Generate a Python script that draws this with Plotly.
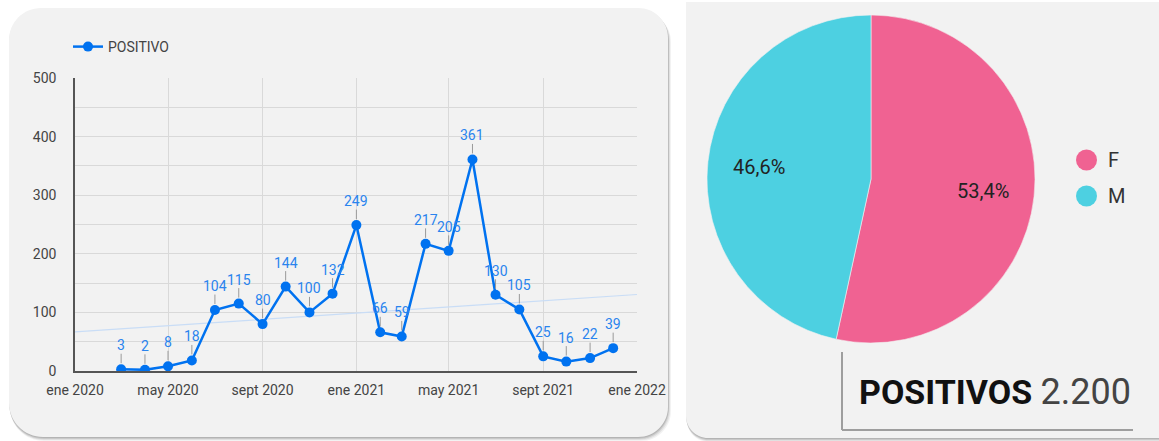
import numpy as np
import pandas as pd
import plotly.graph_objects as go

W, H = 1159, 441

# Monthly positive cases
months = pd.date_range("2020-03-01", "2021-12-01", freq="MS")
positivos = [3, 2, 8, 18, 104, 115, 80, 144, 100, 132, 249,
             66, 59, 217, 205, 361, 130, 105, 25, 16, 22, 39]

# Axis ticks
tick_dates = ["2020-01-01", "2020-05-01", "2020-09-01", "2021-01-01",
              "2021-05-01", "2021-09-01", "2022-01-01"]
tick_text = ["ene 2020", "may 2020", "sept 2020", "ene 2021",
             "may 2021", "sept 2021", "ene 2022"]

# Split by sex
sexo = ["F", "M"]
casos_sexo = [1175, 1025]
colores_sexo = ["#f06292", "#4dd0e1"]

BLUE = "#0072f0"
FONT = "Roboto"


def px(x):
    return x / W


def py(y):
    return 1 - y / H


def rounded_path(x0, y0, x1, y1, rtl, rtr, rbr, rbl):
    k = 0.5523
    pts = []
    pts.append(f"M {px(x0 + rtl)},{py(y0)}")
    pts.append(f"L {px(x1 - rtr)},{py(y0)}")
    if rtr:
        pts.append(f"C {px(x1 - rtr + k * rtr)},{py(y0)} {px(x1)},{py(y0 + rtr - k * rtr)} {px(x1)},{py(y0 + rtr)}")
    pts.append(f"L {px(x1)},{py(y1 - rbr)}")
    if rbr:
        pts.append(f"C {px(x1)},{py(y1 - rbr + k * rbr)} {px(x1 - rbr + k * rbr)},{py(y1)} {px(x1 - rbr)},{py(y1)}")
    pts.append(f"L {px(x0 + rbl)},{py(y1)}")
    if rbl:
        pts.append(f"C {px(x0 + rbl - k * rbl)},{py(y1)} {px(x0)},{py(y1 - rbl + k * rbl)} {px(x0)},{py(y1 - rbl)}")
    pts.append(f"L {px(x0)},{py(y0 + rtl)}")
    if rtl:
        pts.append(f"C {px(x0)},{py(y0 + rtl - k * rtl)} {px(x0 + rtl - k * rtl)},{py(y0)} {px(x0 + rtl)},{py(y0)}")
    pts.append("Z")
    return " ".join(pts)


def card(x0, y0, x1, y1, radii):
    out = []
    for dx, dy, a in [(3, 4, 0.05), (2, 3, 0.07), (1, 2, 0.10), (0.5, 1, 0.10)]:
        out.append(dict(type="path", xref="paper", yref="paper", layer="below",
                        path=rounded_path(x0 + dx * 0.3, y0 + dy, x1 + dx, y1 + dy, *radii),
                        fillcolor=f"rgba(0,0,0,{a})", line=dict(width=0)))
    out.append(dict(type="path", xref="paper", yref="paper", layer="below",
                    path=rounded_path(x0, y0, x1, y1, *radii),
                    fillcolor="#f2f2f2", line=dict(width=0)))
    return out


fig = go.Figure()

# Linear trend over the full axis span
t = (months - pd.Timestamp("2020-01-01")).days.values.astype(float)
coef = np.polyfit(t, positivos, 1)
trend_x = pd.to_datetime([tick_dates[0], tick_dates[-1]])
trend_t = (trend_x - pd.Timestamp("2020-01-01")).days.values.astype(float)
fig.add_trace(go.Scatter(x=trend_x, y=np.polyval(coef, trend_t), mode="lines",
                         line=dict(color="#c9ddf6", width=1.2), showlegend=False,
                         hoverinfo="skip"))

fig.add_trace(go.Scatter(x=months, y=positivos, mode="lines+markers", name="POSITIVO",
                         line=dict(color=BLUE, width=2.5),
                         marker=dict(color=BLUE, size=10)))

annotations = []
for d, v in zip(months, positivos):
    annotations.append(dict(x=d, y=v, xref="x", yref="y", text=str(v),
                            showarrow=True, arrowhead=0, arrowwidth=1,
                            arrowcolor="#9a9a9a", ax=0, ay=-24, standoff=6,
                            borderpad=0,
                            font=dict(family=FONT, size=14, color="#2a84ee")))

# Pie chart of cases by sex
PIE_CX, PIE_CY, PIE_R = 871, 179, 164
fig.add_trace(go.Pie(labels=sexo, values=casos_sexo, sort=False, direction="clockwise",
                     rotation=0, marker=dict(colors=colores_sexo,
                                             line=dict(color="#f2f2f2", width=0.6)),
                     textinfo="none", showlegend=False, hoverinfo="label+percent",
                     domain=dict(x=[px(PIE_CX - PIE_R), px(PIE_CX + PIE_R)],
                                 y=[py(PIE_CY + PIE_R), py(PIE_CY - PIE_R)])))

# Percent labels placed at each slice's mid-angle
total_sexo = sum(casos_sexo)
start = 0.0
for v in casos_sexo:
    frac = v / total_sexo
    mid = 2 * np.pi * (start + frac / 2)
    start += frac
    lx = PIE_CX + 0.685 * PIE_R * np.sin(mid)
    ly = PIE_CY - 0.685 * PIE_R * np.cos(mid)
    annotations.append(dict(x=px(lx), y=py(ly), xref="paper", yref="paper",
                            text=f"{frac * 100:.1f}%".replace(".", ","),
                            showarrow=False, xanchor="center", yanchor="middle",
                            font=dict(family=FONT, size=20, color="#222222")))

# Pie legend
legend_y = [160, 196]
shapes = []
shapes += card(9, 8, 668, 437, (32, 30, 30, 34))
shapes += card(686, 2, 1162, 438, (0, 0, 0, 22))
for lab, col, yy in zip(sexo, colores_sexo, legend_y):
    shapes.append(dict(type="circle", xref="paper", yref="paper",
                       x0=px(1076), x1=px(1097), y0=py(yy + 10.5), y1=py(yy - 10.5),
                       fillcolor=col, line=dict(width=0)))
    annotations.append(dict(x=px(1106), y=py(yy), xref="paper", yref="paper",
                            text=lab, showarrow=False, xanchor="left", yanchor="middle",
                            font=dict(family=FONT, size=20, color="#333333")))

# Scorecard
total = sum(positivos)
total_txt = f"{total:,}".replace(",", ".")
shapes.append(dict(type="line", xref="paper", yref="paper", x0=px(842), x1=px(842),
                   y0=py(352), y1=py(430), line=dict(color="#9e9e9e", width=2)))
shapes.append(dict(type="line", xref="paper", yref="paper", x0=px(842), x1=px(1133),
                   y0=py(430), y1=py(430), line=dict(color="#9e9e9e", width=2)))
annotations.append(dict(x=px(857), y=py(392), xref="paper", yref="paper",
                        text=(f"<b>POSITIVOS</b> "
                              f"<span style='color:#444444;font-size:36px'>{total_txt}</span>"),
                        showarrow=False, xanchor="left", yanchor="middle",
                        font=dict(family=FONT, size=34, color="#111111")))

fig.update_layout(
    width=W, height=H, autosize=False,
    margin=dict(l=0, r=0, t=0, b=0, autoexpand=False),
    paper_bgcolor="white", plot_bgcolor="rgba(0,0,0,0)",
    separators=",.",
    font=dict(family=FONT, color="#444444"),
    shapes=shapes, annotations=annotations,
    showlegend=True,
    legend=dict(x=px(68), y=py(47), xanchor="left", yanchor="middle",
                bgcolor="rgba(0,0,0,0)", font=dict(family=FONT, size=14, color="#444444"),
                itemwidth=30),
    xaxis=dict(domain=[px(75), px(637)], type="date", automargin=False,
               range=[tick_dates[0], tick_dates[-1]],
               tickvals=tick_dates, ticktext=tick_text, ticks="",
               showgrid=True, gridcolor="#d9d9d9", gridwidth=1,
               showline=True, linecolor="#555555", linewidth=2,
               zeroline=False, ticklabelstandoff=5,
               tickfont=dict(family=FONT, size=14, color="#444444")),
    yaxis=dict(domain=[py(371), py(78)], range=[0, 500], dtick=100, ticks="",
               automargin=False,
               showgrid=True, gridcolor="#d9d9d9", gridwidth=1,
               minor=dict(dtick=50, showgrid=True, gridcolor="#d9d9d9", gridwidth=1),
               showline=True, linecolor="#555555", linewidth=1.5,
               zeroline=False, ticklabelstandoff=14,
               tickfont=dict(family=FONT, size=14, color="#444444")),
)

fig.write_html("out.html")
